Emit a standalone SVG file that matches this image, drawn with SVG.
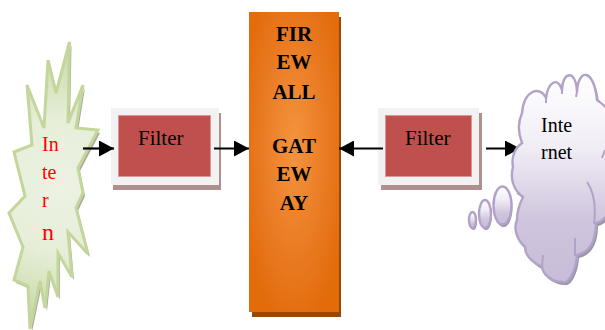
<svg xmlns="http://www.w3.org/2000/svg" width="605" height="330" viewBox="0 0 605 330">
<style>
.t{font-family:"Liberation Serif","Times New Roman",serif}
.fl{font-size:21px;fill:#000}
.fw{font-size:21px;font-weight:bold;fill:#000;text-anchor:middle}
.red{font-size:20px;fill:#f00}
.net{font-size:20px;fill:#000}
.conn{stroke:#000;stroke-width:2.200;fill:none;marker-end:url(#ah)}
.fo{fill:#f2f2f2}.fs{fill:#b08f8f}.fi{fill:#c0504d;stroke:#d99694;stroke-width:.8}
.cs{stroke:#b3a2c7;stroke-width:2.400}
.crease{fill:none;stroke:#b3a2c7;stroke-width:2}
</style>
<defs>
<marker id="ah" markerUnits="userSpaceOnUse" markerWidth="16" markerHeight="16" refX="15" refY="8" orient="auto"><path d="M0 0L15 8L0 16Z" fill="#000"/></marker>
<radialGradient id="gw" cx=".5" cy=".45" r=".62"><stop offset="0" stop-color="#f4943f"/><stop offset=".6" stop-color="#e97a22"/><stop offset="1" stop-color="#e26b0a"/></radialGradient>
<radialGradient id="gs" gradientUnits="userSpaceOnUse" cx="62" cy="185" r="150"><stop offset="0" stop-color="#edf2e3"/><stop offset=".45" stop-color="#e6eed9"/><stop offset="1" stop-color="#c3d69b"/></radialGradient>
<linearGradient id="gc" x1="0" y1="0" x2="0" y2="1"><stop offset="0" stop-color="#fff"/><stop offset=".35" stop-color="#f0edf5"/><stop offset=".7" stop-color="#cfc5dd"/><stop offset="1" stop-color="#c8bcd8"/></linearGradient>
<path id="burst" d="M69.500 42L68 123L83 85L76 128L98 130L78 168L83 193L76 208L88 254L68 232L72 277L58 253L58 297L49 271L45 308L40 281L30 329L28 286L14 280L23 247L9 213L25 196L14 152L32 145L27 85L44 128L48 60L56 93Z"/>
<path id="cloud" d="M522 113C524 90 540 85 546 98C548 82 558 76 562 90C562 72 576 68 577 92C578 68 594 68 597 100C602 104 606 106 612 114L614 205C608 216 602 222 596 223C596 240 590 252 577 255C576 272 568 284 563 282C552 282 543 275 542 267C532 262 525 255 525 247C517 240 513 228 517 220C517 210 520 203 523 197C513 190 510 178 513 167C511 157 515 148 522 143C518 133 518 122 522 113Z"/>
</defs>

<g id="firewall-gateway">
<rect x="252" y="17" width="89" height="300" fill="#984807"/>
<rect x="249" y="12" width="90" height="300" fill="url(#gw)"/>
<text class="t fw" x="294" y="41">FIR</text>
<text class="t fw" x="294" y="69">EW</text>
<text class="t fw" x="294" y="99">ALL</text>
<text class="t fw" x="294" y="153">GAT</text>
<text class="t fw" x="294" y="181">EW</text>
<text class="t fw" x="294" y="210">AY</text>
</g>

<g id="filter-left">
<rect class="fs" x="113" y="113" width="108" height="77"/>
<rect class="fo" x="111" y="108" width="108" height="77"/>
<rect class="fi" x="118.500" y="115.500" width="92" height="61"/>
<text class="t fl" x="138" y="145">Filter</text>
</g>

<g id="filter-right">
<rect class="fs" x="381" y="113" width="101" height="77"/>
<rect class="fo" x="378" y="108" width="101" height="77"/>
<rect class="fi" x="385.500" y="115.500" width="86" height="61"/>
<text class="t fl" x="405" y="145">Filter</text>
</g>

<g id="intern">
<use href="#burst" transform="translate(2 3)" fill="#a9a9a0"/>
<use href="#burst" fill="url(#gs)" stroke="#c3d69b" stroke-width="3"/>
<text class="t red" x="42" y="151">In</text>
<text class="t red" x="42" y="179">te</text>
<text class="t red" x="42" y="207">r</text>
<text class="t red" x="42" y="240" style="font-size:24px">n</text>
</g>

<g id="connectors">
<path class="conn" d="M83 148.500H114"/>
<path class="conn" d="M214 148.500H249"/>
<path class="conn" d="M383 148.500H339"/>
<path class="conn" d="M486 148.500H520"/>
</g>

<g id="internet">
<use href="#cloud" transform="translate(2 3)" fill="#9c95a6"/>
<ellipse cx="503.500" cy="208" rx="9" ry="19" fill="#9c95a6"/>
<ellipse cx="486" cy="216" rx="6" ry="14" fill="#9c95a6"/>
<ellipse cx="473.500" cy="222" rx="3.500" ry="8" fill="#9c95a6"/>
<use href="#cloud" class="cs" fill="url(#gc)"/>
<ellipse class="cs" cx="502.500" cy="205.500" rx="9" ry="19" fill="url(#gc)"/>
<ellipse class="cs" cx="485" cy="214" rx="6" ry="14" fill="url(#gc)"/>
<ellipse class="cs" cx="472.500" cy="220" rx="3.500" ry="8" fill="url(#gc)"/>
<path class="crease" d="M546 98L546 103M562 90L562 94M577 92L576 97M587 182C594 192 596 208 594 224M575 238L575 256M542 267L543 255M523 197L517 193M605 150L602 158"/>
<text class="t net" x="541" y="132">Inte</text>
<text class="t net" x="541" y="159">rnet</text>
</g>
</svg>
